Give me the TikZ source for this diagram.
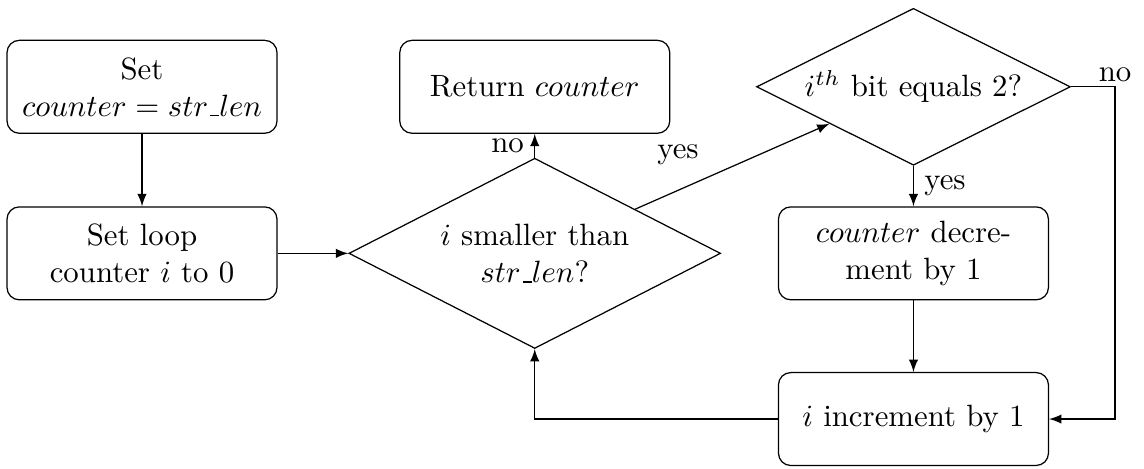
\documentclass[tikz,border=0pt]{standalone}
\usepackage{amsmath,amssymb}
\usepackage{tikz}
\usetikzlibrary{shapes.geometric}
% sublinhado baixo, como o \_ antigo
\newcommand{\sublinha}{\mbox{\kern.06em\vbox{\hrule width.3em}}}

\begin{document}
\begin{tikzpicture}[
    bloco/.style={draw, rectangle, rounded corners, align=center,
        minimum width=3.08cm, minimum height=1.06cm},
    decisao/.style={draw, diamond, aspect=2, inner sep=0pt, align=center},
    seta/.style={draw, -latex}]
    \useasboundingbox (0,0) rectangle (13.05,-5.34);
    % Blocos
    \node[bloco] (inicio) at (1.62,-0.99) {Set\\$counter = str\sublinha len$};
    \node[bloco] (laco) at (1.62,-2.89) {Set loop\\counter $i$ to 0};
    \node[bloco] (retorno) at (6.10,-0.99) {Return $counter$};
    \node[bloco] (decr) at (10.42,-2.89) {$counter$ decre-\\ment by 1};
    \node[bloco] (incr) at (10.42,-4.78) {$i$ increment by 1};
    % Decisões
    \node[decisao, minimum width=4.24cm, minimum height=2.17cm] (menor)
        at (6.10,-2.89) {$i$ smaller than\\$str\sublinha len$?};
    \node[decisao, minimum width=3.58cm, minimum height=1.79cm] (bit)
        at (10.42,-0.99) {$i^{th}$ bit equals 2?};
    \coordinate (canto) at (12.72,-0.99);
    % Setas
    \draw[seta] (inicio) -- (laco);
    \draw[seta] (laco) -- (menor);
    \draw[seta] (menor) -- node[left] {no} (retorno);
    \draw[seta] (menor) -- node[pos=0.22, above=4.9pt] {yes} (bit);
    \draw[seta] (bit) -- node[right] {yes} (decr);
    \draw[seta] (decr) -- (incr);
    \draw[seta] (bit.east) -- (canto) node[above=-2pt] {no} |- (incr.east);
    \draw[seta] (incr.west) -| (menor.south);
\end{tikzpicture}
\end{document}
